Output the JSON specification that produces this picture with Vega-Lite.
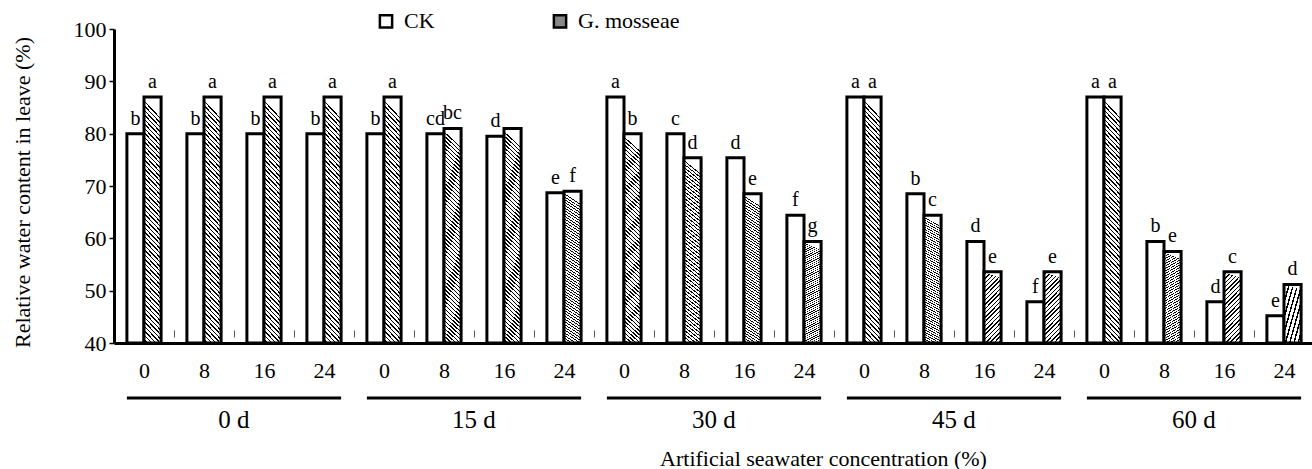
{
  "$schema": "https://vega.github.io/schema/vega-lite/v6.json",
  "autosize": {"type": "none"},
  "padding": {"left": 114, "top": 29, "right": 0, "bottom": 126},
  "width": 1200,
  "height": 314,
  "background": "white",
  "config": {
    "font": "Liberation Serif",
    "view": {"stroke": null},
    "style": {"guide-label": {"font": "Liberation Serif"}, "guide-title": {"font": "Liberation Serif"}},
    "axis": {"labelFont": "Liberation Serif", "titleFont": "Liberation Serif", "labelColor": "#000", "titleColor": "#000", "titleFontWeight": "normal", "grid": false},
    "legend": {"labelFont": "Liberation Serif", "labelColor": "#000"},
    "text": {"font": "Liberation Serif", "color": "#000"}
  },
  "datasets": {
    "bars": [
      {"slot": "0 d|0", "series": "CK", "value": 80, "letter": "b"},
      {"slot": "0 d|0", "series": "G. mosseae", "value": 87, "letter": "a"},
      {"slot": "0 d|8", "series": "CK", "value": 80, "letter": "b"},
      {"slot": "0 d|8", "series": "G. mosseae", "value": 87, "letter": "a"},
      {"slot": "0 d|16", "series": "CK", "value": 80, "letter": "b"},
      {"slot": "0 d|16", "series": "G. mosseae", "value": 87, "letter": "a"},
      {"slot": "0 d|24", "series": "CK", "value": 80, "letter": "b"},
      {"slot": "0 d|24", "series": "G. mosseae", "value": 87, "letter": "a"},
      {"slot": "15 d|0", "series": "CK", "value": 80, "letter": "b"},
      {"slot": "15 d|0", "series": "G. mosseae", "value": 87, "letter": "a"},
      {"slot": "15 d|8", "series": "CK", "value": 80, "letter": "cd"},
      {"slot": "15 d|8", "series": "G. mosseae", "value": 81, "letter": "bc"},
      {"slot": "15 d|16", "series": "CK", "value": 79.5, "letter": "d"},
      {"slot": "15 d|16", "series": "G. mosseae", "value": 81, "letter": ""},
      {"slot": "15 d|24", "series": "CK", "value": 68.7, "letter": "e"},
      {"slot": "15 d|24", "series": "G. mosseae", "value": 69, "letter": "f"},
      {"slot": "30 d|0", "series": "CK", "value": 87, "letter": "a"},
      {"slot": "30 d|0", "series": "G. mosseae", "value": 80, "letter": "b"},
      {"slot": "30 d|8", "series": "CK", "value": 80, "letter": "c"},
      {"slot": "30 d|8", "series": "G. mosseae", "value": 75.4, "letter": "d"},
      {"slot": "30 d|16", "series": "CK", "value": 75.4, "letter": "d"},
      {"slot": "30 d|16", "series": "G. mosseae", "value": 68.5, "letter": "e"},
      {"slot": "30 d|24", "series": "CK", "value": 64.4, "letter": "f"},
      {"slot": "30 d|24", "series": "G. mosseae", "value": 59.4, "letter": "g"},
      {"slot": "45 d|0", "series": "CK", "value": 87, "letter": "a"},
      {"slot": "45 d|0", "series": "G. mosseae", "value": 87, "letter": "a"},
      {"slot": "45 d|8", "series": "CK", "value": 68.5, "letter": "b"},
      {"slot": "45 d|8", "series": "G. mosseae", "value": 64.4, "letter": "c"},
      {"slot": "45 d|16", "series": "CK", "value": 59.4, "letter": "d"},
      {"slot": "45 d|16", "series": "G. mosseae", "value": 53.6, "letter": "e"},
      {"slot": "45 d|24", "series": "CK", "value": 47.9, "letter": "f"},
      {"slot": "45 d|24", "series": "G. mosseae", "value": 53.6, "letter": "e"},
      {"slot": "60 d|0", "series": "CK", "value": 87, "letter": "a"},
      {"slot": "60 d|0", "series": "G. mosseae", "value": 87, "letter": "a"},
      {"slot": "60 d|8", "series": "CK", "value": 59.4, "letter": "b"},
      {"slot": "60 d|8", "series": "G. mosseae", "value": 57.5, "letter": "e"},
      {"slot": "60 d|16", "series": "CK", "value": 47.9, "letter": "d"},
      {"slot": "60 d|16", "series": "G. mosseae", "value": 53.6, "letter": "c"},
      {"slot": "60 d|24", "series": "CK", "value": 45.2, "letter": "e"},
      {"slot": "60 d|24", "series": "G. mosseae", "value": 51.2, "letter": "d"}
    ],
    "groups": [
      {"time": "0 d", "first": "0 d|0", "mid": "0 d|8", "last": "0 d|24"},
      {"time": "15 d", "first": "15 d|0", "mid": "15 d|8", "last": "15 d|24"},
      {"time": "30 d", "first": "30 d|0", "mid": "30 d|8", "last": "30 d|24"},
      {"time": "45 d", "first": "45 d|0", "mid": "45 d|8", "last": "45 d|24"},
      {"time": "60 d", "first": "60 d|0", "mid": "60 d|8", "last": "60 d|24"}
    ]
  },
  "layer": [
    {
      "data": {"name": "bars"},
      "mark": {"type": "bar", "stroke": "#000", "strokeWidth": 3},
      "encoding": {
        "x": {
          "field": "slot", "type": "nominal",
          "scale": {"domain": ["0 d|0","0 d|8","0 d|16","0 d|24","15 d|0","15 d|8","15 d|16","15 d|24","30 d|0","30 d|8","30 d|16","30 d|24","45 d|0","45 d|8","45 d|16","45 d|24","60 d|0","60 d|8","60 d|16","60 d|24"], "paddingInner": 0.43, "paddingOuter": 0.215},
          "axis": {
            "title": "Artificial seawater concentration  (%)",
            "labelExpr": "split(datum.label, '|')[1]",
            "labelAngle": 0,
            "tickOffset": 30,
            "labelOffset": -30,
            "tickSize": -13,
            "tickDash": [0, 6, 7, 40],
            "tickColor": "#555",
            "tickWidth": 1,
            "domainColor": "#000",
            "domainWidth": 3,
            "labelFont": "Liberation Serif, Times New Roman, serif",
            "labelFontSize": 22,
            "labelPadding": 30,
            "labelColor": "#000",
            "titleFont": "Liberation Serif, Times New Roman, serif",
            "titleFontSize": 22,
            "titleFontWeight": "normal",
            "titleColor": "#000",
            "titleX": 709,
            "titleY": 115,
            "titleAlign": "center",
            "titleBaseline": "middle"
          }
        },
        "xOffset": {"field": "series", "type": "nominal", "scale": {"domain": ["CK", "G. mosseae"], "paddingInner": 0, "paddingOuter": 0}},
        "y": {
          "field": "value", "type": "quantitative",
          "scale": {"domain": [40, 100], "nice": false, "zero": false},
          "axis": {
            "values": [40, 50, 60, 70, 80, 90, 100],
            "title": "Relative water content in leave (%)",
            "domainColor": "#000",
            "domainWidth": 3,
            "tickColor": "#000",
            "tickSize": 5,
            "tickWidth": 1.5,
            "labelFont": "Liberation Serif, Times New Roman, serif",
            "labelFontSize": 22,
            "labelPadding": 3,
            "labelColor": "#000",
            "titleFont": "Liberation Serif, Times New Roman, serif",
            "titleFontSize": 22,
            "titleFontWeight": "normal",
            "titleColor": "#000",
            "titleAngle": -90,
            "titleX": -92,
            "titleY": 163,
            "titleAlign": "center",
            "titleBaseline": "middle"
          }
        },
        "y2": {"datum": 40},
        "fill": {
          "field": "series", "type": "nominal",
          "scale": {"domain": ["CK", "G. mosseae"], "range": ["#fff", "#888"]},
          "condition": {
            "test": "datum.series === 'G. mosseae'",
            "value": {"gradient": "linear", "x1": 0.074, "y1": 0, "x2": 0, "y2": 1, "stops": [
              {"offset":0,"color":"#fff"},{"offset":0.0182,"color":"#fff"},
              {"offset":0.0182,"color":"#000"},{"offset":0.0245,"color":"#000"},{"offset":0.0245,"color":"#fff"},{"offset":0.0364,"color":"#fff"},
              {"offset":0.0364,"color":"#000"},{"offset":0.0427,"color":"#000"},{"offset":0.0427,"color":"#fff"},{"offset":0.0545,"color":"#fff"},
              {"offset":0.0545,"color":"#000"},{"offset":0.0609,"color":"#000"},{"offset":0.0609,"color":"#fff"},{"offset":0.0727,"color":"#fff"},
              {"offset":0.0727,"color":"#000"},{"offset":0.0791,"color":"#000"},{"offset":0.0791,"color":"#fff"},{"offset":0.0909,"color":"#fff"},
              {"offset":0.0909,"color":"#000"},{"offset":0.0973,"color":"#000"},{"offset":0.0973,"color":"#fff"},{"offset":0.1091,"color":"#fff"},
              {"offset":0.1091,"color":"#000"},{"offset":0.1155,"color":"#000"},{"offset":0.1155,"color":"#fff"},{"offset":0.1273,"color":"#fff"},
              {"offset":0.1273,"color":"#000"},{"offset":0.1336,"color":"#000"},{"offset":0.1336,"color":"#fff"},{"offset":0.1455,"color":"#fff"},
              {"offset":0.1455,"color":"#000"},{"offset":0.1518,"color":"#000"},{"offset":0.1518,"color":"#fff"},{"offset":0.1636,"color":"#fff"},
              {"offset":0.1636,"color":"#000"},{"offset":0.17,"color":"#000"},{"offset":0.17,"color":"#fff"},{"offset":0.1818,"color":"#fff"},
              {"offset":0.1818,"color":"#000"},{"offset":0.1882,"color":"#000"},{"offset":0.1882,"color":"#fff"},{"offset":0.2,"color":"#fff"},
              {"offset":0.2,"color":"#000"},{"offset":0.2064,"color":"#000"},{"offset":0.2064,"color":"#fff"},{"offset":0.2182,"color":"#fff"},
              {"offset":0.2182,"color":"#000"},{"offset":0.2245,"color":"#000"},{"offset":0.2245,"color":"#fff"},{"offset":0.2364,"color":"#fff"},
              {"offset":0.2364,"color":"#000"},{"offset":0.2427,"color":"#000"},{"offset":0.2427,"color":"#fff"},{"offset":0.2545,"color":"#fff"},
              {"offset":0.2545,"color":"#000"},{"offset":0.2609,"color":"#000"},{"offset":0.2609,"color":"#fff"},{"offset":0.2727,"color":"#fff"},
              {"offset":0.2727,"color":"#000"},{"offset":0.2791,"color":"#000"},{"offset":0.2791,"color":"#fff"},{"offset":0.2909,"color":"#fff"},
              {"offset":0.2909,"color":"#000"},{"offset":0.2973,"color":"#000"},{"offset":0.2973,"color":"#fff"},{"offset":0.3091,"color":"#fff"},
              {"offset":0.3091,"color":"#000"},{"offset":0.3155,"color":"#000"},{"offset":0.3155,"color":"#fff"},{"offset":0.3273,"color":"#fff"},
              {"offset":0.3273,"color":"#000"},{"offset":0.3336,"color":"#000"},{"offset":0.3336,"color":"#fff"},{"offset":0.3455,"color":"#fff"},
              {"offset":0.3455,"color":"#000"},{"offset":0.3518,"color":"#000"},{"offset":0.3518,"color":"#fff"},{"offset":0.3636,"color":"#fff"},
              {"offset":0.3636,"color":"#000"},{"offset":0.37,"color":"#000"},{"offset":0.37,"color":"#fff"},{"offset":0.3818,"color":"#fff"},
              {"offset":0.3818,"color":"#000"},{"offset":0.3882,"color":"#000"},{"offset":0.3882,"color":"#fff"},{"offset":0.4,"color":"#fff"},
              {"offset":0.4,"color":"#000"},{"offset":0.4064,"color":"#000"},{"offset":0.4064,"color":"#fff"},{"offset":0.4182,"color":"#fff"},
              {"offset":0.4182,"color":"#000"},{"offset":0.4245,"color":"#000"},{"offset":0.4245,"color":"#fff"},{"offset":0.4364,"color":"#fff"},
              {"offset":0.4364,"color":"#000"},{"offset":0.4427,"color":"#000"},{"offset":0.4427,"color":"#fff"},{"offset":0.4545,"color":"#fff"},
              {"offset":0.4545,"color":"#000"},{"offset":0.4609,"color":"#000"},{"offset":0.4609,"color":"#fff"},{"offset":0.4727,"color":"#fff"},
              {"offset":0.4727,"color":"#000"},{"offset":0.4791,"color":"#000"},{"offset":0.4791,"color":"#fff"},{"offset":0.4909,"color":"#fff"},
              {"offset":0.4909,"color":"#000"},{"offset":0.4973,"color":"#000"},{"offset":0.4973,"color":"#fff"},{"offset":0.5091,"color":"#fff"},
              {"offset":0.5091,"color":"#000"},{"offset":0.5155,"color":"#000"},{"offset":0.5155,"color":"#fff"},{"offset":0.5273,"color":"#fff"},
              {"offset":0.5273,"color":"#000"},{"offset":0.5336,"color":"#000"},{"offset":0.5336,"color":"#fff"},{"offset":0.5455,"color":"#fff"},
              {"offset":0.5455,"color":"#000"},{"offset":0.5518,"color":"#000"},{"offset":0.5518,"color":"#fff"},{"offset":0.5636,"color":"#fff"},
              {"offset":0.5636,"color":"#000"},{"offset":0.57,"color":"#000"},{"offset":0.57,"color":"#fff"},{"offset":0.5818,"color":"#fff"},
              {"offset":0.5818,"color":"#000"},{"offset":0.5882,"color":"#000"},{"offset":0.5882,"color":"#fff"},{"offset":0.6,"color":"#fff"},
              {"offset":0.6,"color":"#000"},{"offset":0.6064,"color":"#000"},{"offset":0.6064,"color":"#fff"},{"offset":0.6182,"color":"#fff"},
              {"offset":0.6182,"color":"#000"},{"offset":0.6245,"color":"#000"},{"offset":0.6245,"color":"#fff"},{"offset":0.6364,"color":"#fff"},
              {"offset":0.6364,"color":"#000"},{"offset":0.6427,"color":"#000"},{"offset":0.6427,"color":"#fff"},{"offset":0.6545,"color":"#fff"},
              {"offset":0.6545,"color":"#000"},{"offset":0.6609,"color":"#000"},{"offset":0.6609,"color":"#fff"},{"offset":0.6727,"color":"#fff"},
              {"offset":0.6727,"color":"#000"},{"offset":0.6791,"color":"#000"},{"offset":0.6791,"color":"#fff"},{"offset":0.6909,"color":"#fff"},
              {"offset":0.6909,"color":"#000"},{"offset":0.6973,"color":"#000"},{"offset":0.6973,"color":"#fff"},{"offset":0.7091,"color":"#fff"},
              {"offset":0.7091,"color":"#000"},{"offset":0.7155,"color":"#000"},{"offset":0.7155,"color":"#fff"},{"offset":0.7273,"color":"#fff"},
              {"offset":0.7273,"color":"#000"},{"offset":0.7336,"color":"#000"},{"offset":0.7336,"color":"#fff"},{"offset":0.7455,"color":"#fff"},
              {"offset":0.7455,"color":"#000"},{"offset":0.7518,"color":"#000"},{"offset":0.7518,"color":"#fff"},{"offset":0.7636,"color":"#fff"},
              {"offset":0.7636,"color":"#000"},{"offset":0.77,"color":"#000"},{"offset":0.77,"color":"#fff"},{"offset":0.7818,"color":"#fff"},
              {"offset":0.7818,"color":"#000"},{"offset":0.7882,"color":"#000"},{"offset":0.7882,"color":"#fff"},{"offset":0.8,"color":"#fff"},
              {"offset":0.8,"color":"#000"},{"offset":0.8064,"color":"#000"},{"offset":0.8064,"color":"#fff"},{"offset":0.8182,"color":"#fff"},
              {"offset":0.8182,"color":"#000"},{"offset":0.8245,"color":"#000"},{"offset":0.8245,"color":"#fff"},{"offset":0.8364,"color":"#fff"},
              {"offset":0.8364,"color":"#000"},{"offset":0.8427,"color":"#000"},{"offset":0.8427,"color":"#fff"},{"offset":0.8545,"color":"#fff"},
              {"offset":0.8545,"color":"#000"},{"offset":0.8609,"color":"#000"},{"offset":0.8609,"color":"#fff"},{"offset":0.8727,"color":"#fff"},
              {"offset":0.8727,"color":"#000"},{"offset":0.8791,"color":"#000"},{"offset":0.8791,"color":"#fff"},{"offset":0.8909,"color":"#fff"},
              {"offset":0.8909,"color":"#000"},{"offset":0.8973,"color":"#000"},{"offset":0.8973,"color":"#fff"},{"offset":0.9091,"color":"#fff"},
              {"offset":0.9091,"color":"#000"},{"offset":0.9155,"color":"#000"},{"offset":0.9155,"color":"#fff"},{"offset":0.9273,"color":"#fff"},
              {"offset":0.9273,"color":"#000"},{"offset":0.9336,"color":"#000"},{"offset":0.9336,"color":"#fff"},{"offset":0.9455,"color":"#fff"},
              {"offset":0.9455,"color":"#000"},{"offset":0.9518,"color":"#000"},{"offset":0.9518,"color":"#fff"},{"offset":0.9636,"color":"#fff"},
              {"offset":0.9636,"color":"#000"},{"offset":0.97,"color":"#000"},{"offset":0.97,"color":"#fff"},{"offset":0.9818,"color":"#fff"},
              {"offset":0.9818,"color":"#000"},{"offset":0.9882,"color":"#000"},{"offset":0.9882,"color":"#fff"},{"offset":1,"color":"#fff"}
            ]}
          },
          "legend": {
            "title": null,
            "orient": "none",
            "legendX": 261,
            "legendY": -19,
            "direction": "horizontal",
            "symbolType": "square",
            "symbolSize": 150,
            "symbolStrokeColor": "#000",
            "symbolStrokeWidth": 2.5,
            "labelFont": "Liberation Serif, Times New Roman, serif",
            "labelFontSize": 22,
            "labelColor": "#000",
            "labelOffset": 7,
            "columnPadding": 113,
            "encode": {
              "symbols": {
                "update": {
                  "stroke": {"value": "#000"},
                  "strokeWidth": {"value": 2.5},
                  "fill": {"signal": "datum.value === 'G. mosseae' ? {gradient: 'linear', x1: 0, y1: 1, x2: 1, y2: 0, stops: [{offset: 0, color: '#000'}, {offset: 0.08, color: '#000'}, {offset: 0.08, color: '#fff'}, {offset: 0.2, color: '#fff'}, {offset: 0.2, color: '#000'}, {offset: 0.28, color: '#000'}, {offset: 0.28, color: '#fff'}, {offset: 0.4, color: '#fff'}, {offset: 0.4, color: '#000'}, {offset: 0.48, color: '#000'}, {offset: 0.48, color: '#fff'}, {offset: 0.6, color: '#fff'}, {offset: 0.6, color: '#000'}, {offset: 0.68, color: '#000'}, {offset: 0.68, color: '#fff'}, {offset: 0.8, color: '#fff'}, {offset: 0.8, color: '#000'}, {offset: 0.88, color: '#000'}, {offset: 0.88, color: '#fff'}, {offset: 1, color: '#fff'}]} : '#fff'"}
                }
              }
            }
          }
        }
      }
    },
    {
      "data": {"name": "bars"},
      "mark": {"type": "text", "baseline": "bottom", "align": "center", "dy": -5, "fontSize": 20, "font": "Liberation Serif"},
      "encoding": {
        "x": {"field": "slot", "type": "nominal"},
        "xOffset": {"field": "series", "type": "nominal"},
        "y": {"field": "value", "type": "quantitative"},
        "text": {"field": "letter"}
      }
    },
    {
      "data": {"name": "groups"},
      "mark": {"type": "rule", "stroke": "#000", "strokeWidth": 3},
      "encoding": {
        "x": {"field": "first", "type": "nominal", "bandPosition": 0},
        "x2": {"field": "last", "bandPosition": 1},
        "y": {"datum": 29.5, "type": "quantitative"}
      }
    },
    {
      "data": {"name": "groups"},
      "mark": {"type": "text", "baseline": "middle", "align": "center", "fontSize": 25, "font": "Liberation Serif"},
      "encoding": {
        "x": {"field": "mid", "type": "nominal", "bandPosition": 1.377},
        "y": {"datum": 25.3, "type": "quantitative"},
        "text": {"field": "time"}
      }
    }
  ]
}
